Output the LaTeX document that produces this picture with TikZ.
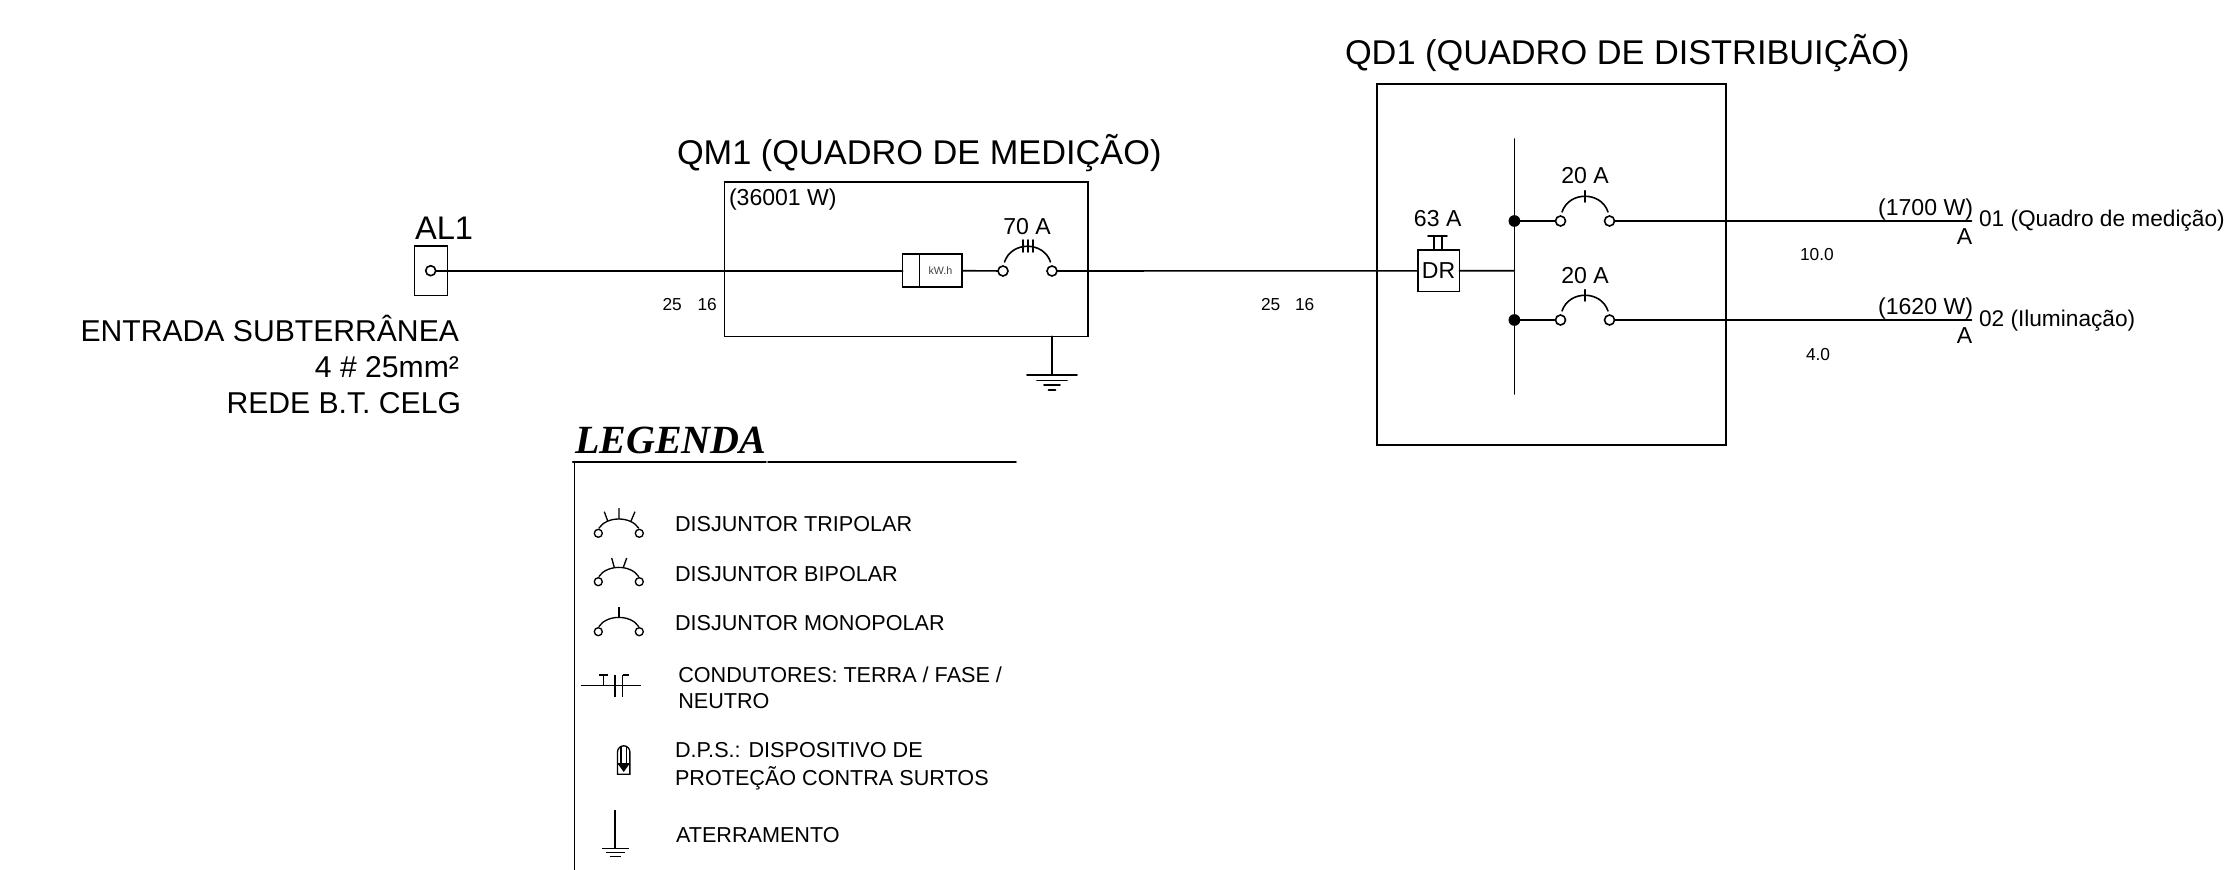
\documentclass[tikz,border=0pt]{standalone}
\usepackage{fontspec}
\setmainfont{Liberation Sans}
\newfontfamily\legfont{Liberation Serif}
\newcommand{\fs}[1]{\fontsize{#1}{#1}\selectfont}
\tikzset{
  wire/.style={line width=1.2pt,line cap=round},
  txt/.style={anchor=base west,inner sep=0pt,outer sep=0pt,text=black},
  txte/.style={anchor=base east,inner sep=0pt,outer sep=0pt,text=black},
  txtc/.style={anchor=base,inner sep=0pt,outer sep=0pt,text=black},
  big/.style={font=\fs{25.75}},
  mid/.style={font=\fs{17.3}},
  small/.style={font=\fs{13}},
  leg/.style={font=\fs{16.2}},
  panel/.style={draw,line width=1.2pt,inner sep=0pt,outer sep=0pt},
  term/.style={circle,draw,line width=1.2pt,fill=white,inner sep=0pt,outer sep=0pt,minimum size=7.5pt},
  lterm/.style={circle,draw,line width=1pt,fill=white,inner sep=0pt,outer sep=0pt,minimum size=6pt},
  junction/.style={circle,fill=black,inner sep=0pt,outer sep=0pt,minimum size=8.8pt},
  brk/.pic={
    \node[term] (l) at (-24.5,0) {};
    \node[term] (r) at (24.5,0) {};
    \draw[wire] (-23,-9) .. controls (-16,-30) and (16,-30) .. (23,-9);
  },
  lbrk/.pic={
    \node[lterm] (l) at (-20.5,0) {};
    \node[lterm] (r) at (20.5,0) {};
    \draw[line width=1pt] (-20,-5) .. controls (-12,-17.4) and (12,-17.4) .. (20,-5);
  },
  gnd/.pic={
    \draw[wire] (-25,0) -- (25,0) (-15,5.5) -- (15,5.5) (-8,10) -- (8,10) (-3.5,15) -- (3.5,15);
  },
  lgnd/.pic={
    \draw[line width=1pt] (-13.5,0) -- (13.5,0) (-9.5,4.4) -- (9.5,4.4) (-5.5,8.4) -- (5.5,8.4);
  },
}
\begin{document}
\begin{tikzpicture}[x=0.75pt,y=-0.75pt]
\useasboundingbox (0,0) rectangle (2239,870);
% titles
\node[txt,big] (tqm) at (677,165) {QM1 (QUADRO DE MEDIÇÃO)};
\node[txt,big] (tqd) at (1345,65) {QD1 (QUADRO DE DISTRIBUIÇÃO)};
\node[txt,font=\fs{24.5}] (tal) at (415,239) {AL1};
% left text
\node[txte,font=\fs{22.6}] (e1) at (459,341) {ENTRADA SUBTERRÂNEA};
\node[txte,font=\fs{22.6}] (e2) at (459,377) {4 \# 25mm²};
\node[txte,font=\fs{22.6}] (e3) at (461,413) {REDE B.T. CELG};
% panels
\node[panel,minimum width=25pt,minimum height=37.3pt] (al) at (431,270.8) {};
\node[term] (alc) at (430.7,270.7) {};
\node[panel,minimum width=272.6pt,minimum height=115.5pt] (qm) at (906.3,259.3) {};
\node[panel,minimum width=261.8pt,minimum height=270.7pt] (qd) at (1551.3,264.5) {};
\node[txt,mid] (w) at (729,206) {(36001 W)};
% meter
\node[panel,minimum width=44.6pt,minimum height=24.8pt] (meter) at (932.4,270.7) {};
\coordinate (mt) at (919.3,254);
\coordinate (mb) at (919.3,287);
\draw[wire] (mt) -- (mb);
\node[anchor=center,inner sep=0pt,text=black!75,font=\fs{8}] (kwh) at (940.5,271) {kW.h};
% QM1 breaker
\pic (bq) at (1027.5,271) {brk};
\coordinate (t1) at (1023,240); \coordinate (t1b) at (1023,252);
\coordinate (t2) at (1028,240); \coordinate (t2b) at (1028,252);
\coordinate (t3) at (1033,240); \coordinate (t3b) at (1033,252);
\draw[wire] (t1) -- (t1b) (t2) -- (t2b) (t3) -- (t3b);
\node[txtc,mid] (a70) at (1027,234) {70 A};
% ground QM1
\coordinate (qmg) at (1052,336.3);
\coordinate (g1) at (1052,375);
\draw[wire] (qmg) -- (g1);
\pic at (g1) {gnd};
% DR
\node[panel,fill=white,minimum width=31.2pt,minimum height=31.2pt] (dr) at (1438.5,270.8) {};
\node[anchor=center,inner sep=0pt,font=\fs{17.3}] (drt) at (1438.5,271) {DR};
\coordinate (dl) at (1434,250); \coordinate (dlt) at (1434,236);
\coordinate (dr2) at (1442,250); \coordinate (drt2) at (1442,236);
\coordinate (dh1) at (1428,236); \coordinate (dh2) at (1447,236);
\draw[wire] (dl) -- (dlt) (dr2) -- (drt2) (dh1) -- (dh2);
\node[txtc,mid] (a63) at (1437.7,226.7) {63 A};
% bus
\coordinate (bust) at (1514.4,139);
\coordinate (busb) at (1514.4,394);
\coordinate (busm) at (1514.4,270.7);
\draw[wire] (bust) -- (busb);
\node[junction] (j1) at (1514.4,221) {};
\node[junction] (j2) at (1514.4,320) {};
% breakers
\pic (ba) at (1585,221) {brk};
\pic (bb) at (1585,320) {brk};
\coordinate (ta) at (1585,190.7); \coordinate (tab) at (1585,202);
\coordinate (tb) at (1585,289.7); \coordinate (tbb) at (1585,301);
\draw[wire] (ta) -- (tab) (tb) -- (tbb);
\node[txtc,mid] (a20a) at (1585,184) {20 A};
\node[txtc,mid] (a20b) at (1585,283) {20 A};
\coordinate (ea) at (1971.5,221);
\coordinate (eb) at (1971.5,320);
% main wires
\draw[wire] (alc) -- (meter.west);
\draw[wire] (meter.east) -- (bql);
\draw[wire] (bqr) -- (dr.west);
\draw[wire] (dr.east) -- (busm);
\draw[wire] (j1) -- (bal);
\draw[wire] (j2) -- (bbl);
\draw[wire] (bar) -- (ea);
\draw[wire] (bbr) -- (eb);
% wire labels
\node[txt,small] (n25a) at (662.6,310) {25};
\node[txt,small] (n16a) at (697.5,310) {16};
\node[txt,small] (n25b) at (1261,310) {25};
\node[txt,small] (n16b) at (1295,310) {16};
\node[txt,small] (s1) at (1800,260) {10.0};
\node[txt,small] (s2) at (1806,360) {4.0};
\node[txte,mid] (wa) at (1973,215) {(1700 W)};
\node[txte,mid] (wb) at (1973,314) {(1620 W)};
\node[txtc,mid] (aa) at (1964.6,244) {A};
\node[txtc,mid] (ab) at (1964.6,343) {A};
\node[txt,font=\fs{17}] (ca) at (1979,226.7) {01 (Quadro de medição)};
\node[txt,font=\fs{17}] (cb) at (1979,326) {02 (Iluminação)};
% legend frame
\node[txt,font=\legfont\bfseries\itshape\fs{30}] (lt) at (575,453.3) {LEGENDA};
\coordinate (lf0) at (574.3,870);
\coordinate (lf1) at (574.3,461.7);
\coordinate (lf2) at (572.7,461.7);
\coordinate (lf3) at (766,461.7);
\coordinate (lf4) at (768,461.7);
\coordinate (lf5) at (1016,461.7);
\draw[wire] (lf0) -- (lf1);
\draw[wire] (lf2) -- (lf3);
\draw[wire] (lf4) -- (lf5);
% legend symbols
\pic (lb1) at (618.8,533.3) {lbrk};
\draw[line width=1pt] (619,508) -- (619,519) (604.3,511.7) -- (607.7,521) (635,511.7) -- (631,521);
\pic (lb2) at (618.8,581.7) {lbrk};
\draw[line width=1pt] (611.7,558) -- (614.3,567.5) (626.7,558) -- (623.3,567.5);
\pic (lb3) at (618.8,631.7) {lbrk};
\draw[line width=1pt] (619,607) -- (619,618);
\node[txt,leg] (l1) at (675,531.7) {DISJUNTOR TRIPOLAR};
\node[txt,leg] (l2) at (675,581) {DISJUNTOR BIPOLAR};
\node[txt,leg] (l3) at (675,630.7) {DISJUNTOR MONOPOLAR};
% conductors
\draw[line width=1pt] (580.7,685.7) -- (641,685.7)
  (599,675) -- (607.7,675) (603.3,675) -- (603.3,685.7)
  (615,675) -- (615,696.7) (622.7,675) -- (622.7,696.7) (622.7,675) -- (629,675);
\node[txt,leg] (l4) at (678.3,682.7) {CONDUTORES: TERRA / FASE /};
\node[txt,leg] (l5) at (678.3,708.3) {NEUTRO};
% DPS
\draw[line width=1pt] (617.5,774.3) -- (617.5,752) arc[start angle=180,end angle=360,radius=6.2] -- (629.9,774.3) -- cycle;
\draw[line width=1pt] (621,746.5) -- (621,764) (626.4,746.5) -- (626.4,764) (617.5,764) -- (629.9,764);
\fill (618,764) -- (629.4,764) -- (623.7,772) -- cycle;
\node[txt,leg] (l6) at (675,757.3) {D.P.S.: DISPOSITIVO DE};
\node[txt,leg] (l7) at (675,785) {PROTEÇÃO CONTRA SURTOS};
% ground legend
\coordinate (lg0) at (615,810);
\coordinate (lg1) at (615,848.3);
\draw[line width=1pt] (lg0) -- (lg1);
\pic at (lg1) {lgnd};
\node[txt,leg] (l8) at (676,842.7) {ATERRAMENTO};
\end{tikzpicture}
\end{document}
